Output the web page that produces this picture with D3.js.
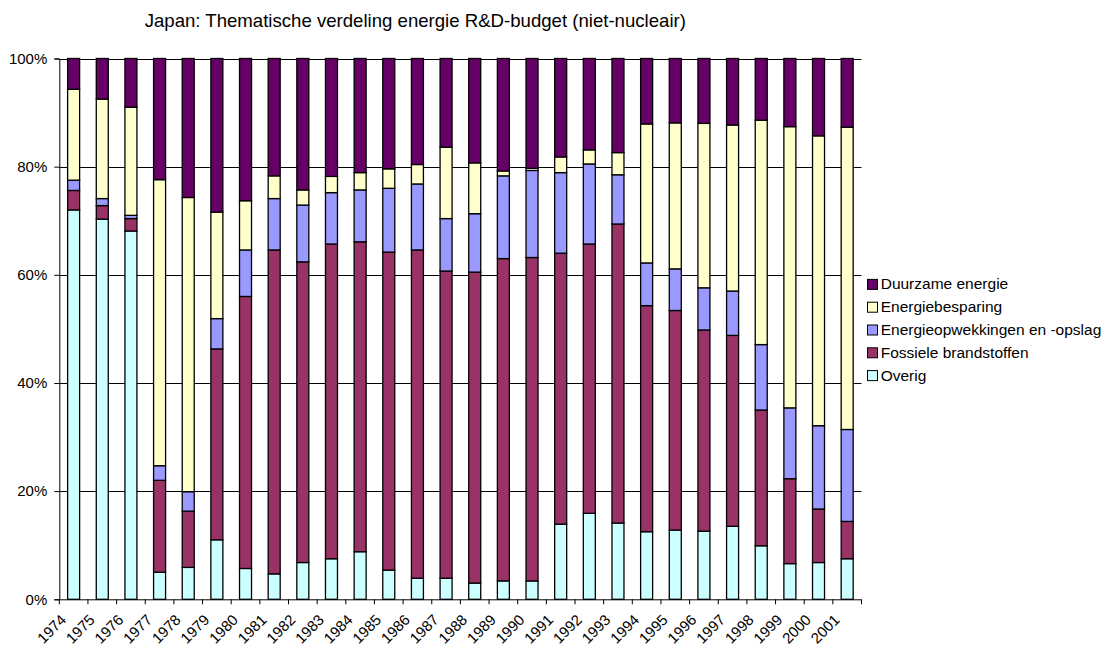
<!DOCTYPE html>
<html>
<head>
<meta charset="utf-8">
<script src="https://cdn.jsdelivr.net/npm/d3@7"></script>
<style>
  html, body { margin: 0; padding: 0; background: #fff; }
  svg { display: block; font-family: "Liberation Sans", Arial, sans-serif; }
</style>
</head>
<body>
<svg id="chart" width="1105" height="648"></svg>
<script>
const years = ["1974","1975","1976","1977","1978","1979","1980","1981","1982","1983","1984","1985","1986","1987","1988","1989","1990","1991","1992","1993","1994","1995","1996","1997","1998","1999","2000","2001"];
const overig    = [72.0,70.3,68.1,5.0,5.9,11.0,5.7,4.7,6.8,7.5,8.8,5.4,3.9,3.9,3.0,3.4,3.4,13.9,15.9,14.1,12.5,12.8,12.6,13.5,9.9,6.6,6.8,7.5];
const fossiel   = [3.6,2.5,2.3,17.0,10.4,35.3,50.3,59.9,55.6,58.2,57.3,58.8,60.7,56.8,57.5,59.6,59.8,50.1,49.8,55.3,41.8,40.6,37.2,35.3,25.1,15.7,9.9,6.9];
const opwek     = [1.9,1.3,0.6,2.7,3.6,5.6,8.6,9.5,10.5,9.5,9.6,11.8,12.2,9.7,10.8,15.3,16.1,14.9,14.8,9.1,7.9,7.7,7.8,8.2,12.1,13.1,15.4,17.0];
const besparing = [16.8,18.4,20.0,52.9,54.4,19.7,9.1,4.2,2.8,3.0,3.2,3.6,3.6,13.2,9.4,0.9,0.4,2.9,2.6,4.1,25.7,27.0,30.4,30.7,41.5,52.0,53.6,55.9];
const duurzaam  = [5.7,7.5,9.0,22.4,25.7,28.4,26.3,21.7,24.3,21.8,21.1,20.4,19.6,16.4,19.3,20.8,20.3,18.2,16.9,17.4,12.1,11.9,12.0,12.3,11.4,12.6,14.3,12.7];
const seriesNames = ["Overig","Fossiele brandstoffen","Energieopwekkingen en -opslag","Energiebesparing","Duurzame energie"];
const seriesColors = ["#CCFFFF","#993366","#9999FF","#FFFFCC","#660066"];
const yTicks = [0,0.2,0.4,0.6,0.8,1.0];
const title = "Japan: Thematische verdeling energie R&D-budget (niet-nucleair)";

const seriesValues = [overig, fossiel, opwek, besparing, duurzaam];
const rows = years.map((y, i) => {
  const r = { year: y };
  seriesNames.forEach((n, s) => r[n] = seriesValues[s][i]);
  return r;
});
const stacked = d3.stack().keys(seriesNames).offset(d3.stackOffsetExpand)(rows);

const svg = d3.select("#chart");
const pLeft = 59.3, pRight = 861.5, pTop = 58.5, pBottom = 599.3;

const x = d3.scaleBand().domain(years).range([pLeft, pRight]).paddingInner(0).paddingOuter(0);
const y = d3.scaleLinear().domain([0, 1]).range([pBottom, pTop]);

// title
svg.append("text").attr("x", 415.3).attr("y", 26.5).attr("text-anchor", "middle")
  .style("font-size", "18.6px").attr("fill", "#000").text(title);

// gridlines
svg.append("g").selectAll("line").data(yTicks.filter(d => d > 0)).join("line")
  .attr("x1", pLeft).attr("x2", pRight)
  .attr("y1", d => Math.round(y(d)) + 0.5).attr("y2", d => Math.round(y(d)) + 0.5)
  .attr("stroke", "#000").attr("stroke-width", 1);

// bars
const barW = 12;
svg.append("g").selectAll("g").data(stacked).join("g")
  .attr("fill", (d, i) => seriesColors[i])
  .selectAll("rect").data(d => d).join("rect")
  .attr("x", d => x(d.data.year) + x.bandwidth() / 2 - barW / 2)
  .attr("width", barW)
  .attr("y", d => y(d[1]))
  .attr("height", d => Math.max(0, y(d[0]) - y(d[1])))
  .attr("stroke", "#000").attr("stroke-width", 1.3);

// y axis
const yAxis = d3.axisLeft(y).tickValues(yTicks).tickFormat(d3.format(".0%")).tickSize(5).tickPadding(7);
const gy = svg.append("g").attr("transform", `translate(${pLeft},0)`).call(yAxis);
gy.attr("font-family", null).attr("font-size", null);
gy.select(".domain").attr("stroke", "#000");
gy.selectAll(".tick line").attr("stroke", "#000");
gy.selectAll("text").style("font-size", "15px").attr("fill", "#000");

// x axis with ticks between categories
const gx = svg.append("g").attr("transform", `translate(0,${pBottom})`);
gx.append("line").attr("x1", pLeft).attr("x2", pRight).attr("y1", 0.5).attr("y2", 0.5).attr("stroke", "#000");
const tickPos = d3.range(years.length + 1).map(k => pLeft + k * x.step());
gx.selectAll("line.tk").data(tickPos).join("line").attr("class", "tk")
  .attr("x1", d => d).attr("x2", d => d).attr("y1", 0).attr("y2", 5).attr("stroke", "#000");
gx.selectAll("text").data(years).join("text")
  .attr("text-anchor", "end")
  .attr("transform", d => `translate(${x(d) + x.bandwidth() / 2 - 6.5},${21.5}) rotate(-45)`)
  .style("font-size", "15px").attr("fill", "#000").text(d => d);

// legend
const legendOrder = [4, 3, 2, 1, 0];
const lg = svg.append("g");
legendOrder.forEach((s, k) => {
  const base = 289.4 + k * 22.8;
  lg.append("rect").attr("x", 867.5).attr("y", base - 10).attr("width", 10).attr("height", 10)
    .attr("fill", seriesColors[s]).attr("stroke", "#000").attr("stroke-width", 1);
  lg.append("text").attr("x", 880.7).attr("y", base).style("font-size", "15.5px")
    .attr("fill", "#000").text(seriesNames[s]);
});
</script>
</body>
</html>
